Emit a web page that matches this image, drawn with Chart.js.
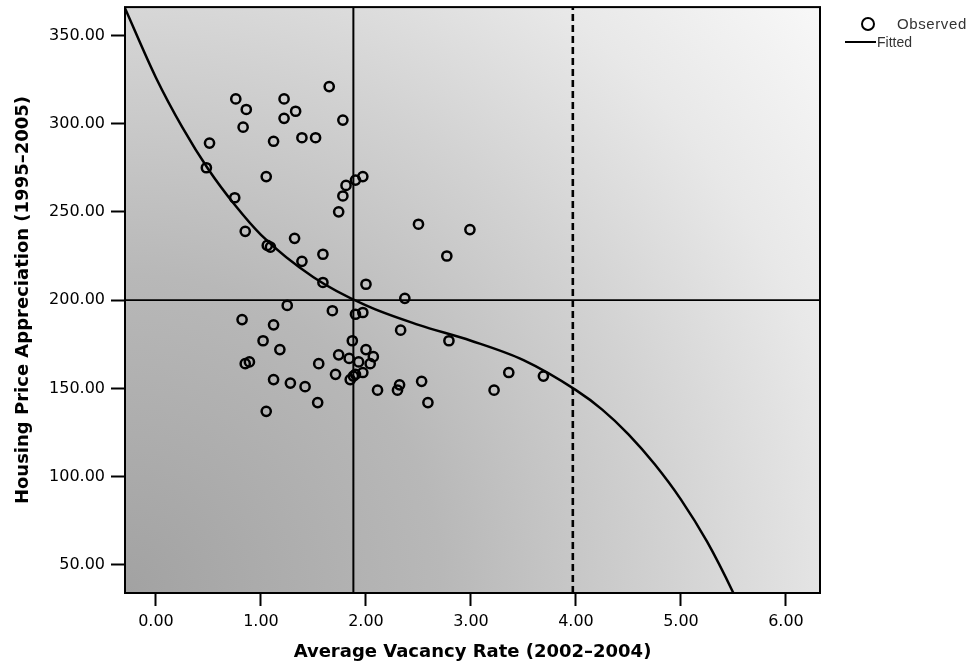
<!DOCTYPE html>
<html>
<head>
<meta charset="utf-8">
<script src="https://cdn.jsdelivr.net/npm/chart.js@4.4.1/dist/chart.umd.min.js"></script>
<style>
    body { margin: 0; background: #fff; }
    .wrap { position: relative; width: 980px; height: 668px; }
    .legend-item { position: absolute; font-family: "Liberation Sans", Arial, sans-serif; font-size: 14px; line-height: 16px; color: #333; white-space: nowrap; }
    .legend-circle { position: absolute; left: 861px; top: 17px; width: 10px; height: 10px; border: 2px solid #000; border-radius: 50%; }
    .legend-line { position: absolute; left: 845px; top: 41px; width: 31px; height: 2px; background: #000; }
</style>
</head>
<body>
<div class="wrap">
    <canvas id="chart" width="980" height="668"></canvas>
    <div class="legend-circle"></div>
    <div class="legend-item" style="left: 897px; top: 16px; font-size: 15px; letter-spacing: 0.6px;">Observed</div>
    <div class="legend-line"></div>
    <div class="legend-item" style="left: 877px; top: 34px;">Fitted</div>
</div>
<script>
// observed cities
const observedVacancy = [
    0.51, 0.48, 0.76, 0.86, 0.83, 0.75, 1.05, 1.12, 1.22, 1.33, 1.22, 1.39, 1.52,
    0.85, 1.06, 1.09, 1.32, 1.39, 1.59, 1.59, 1.25, 1.65, 1.78, 1.97, 1.90, 1.81,
    1.78, 1.74, 2.00, 1.68, 1.90, 1.97, 0.82, 1.12, 1.02, 1.87, 1.18, 2.00, 1.74,
    1.84, 1.93, 2.07, 2.04, 0.85, 0.89, 1.55, 1.71, 1.97, 1.90, 1.88, 1.85, 1.12,
    1.28, 1.42, 1.54, 1.05,
    2.50, 2.99, 2.77, 2.37, 2.33, 2.79, 2.53, 2.32, 2.30, 2.11, 2.59, 3.36, 3.69, 3.22
];
const observedAppreciation = [
    289, 275, 314, 308, 298, 258, 270, 290, 314, 307, 303, 292, 292,
    239, 231, 230, 235, 222, 226, 210, 197, 321, 302, 270, 268, 265,
    259, 250, 209, 194, 192, 193, 189, 186, 177, 177, 172, 172, 169,
    167, 165, 168, 164, 164, 165, 164, 158, 159, 158, 157, 155, 155,
    153, 151, 142, 137,
    243, 240, 225, 201, 183, 177, 154, 152, 149, 149, 142, 159, 157, 149
];

// fitted curve
const fittedVacancy = [-0.3, 0, 0.25, 0.5, 0.75, 1, 1.5, 2, 2.5, 3, 3.5, 4, 4.25, 4.5, 4.75, 5, 5.25, 5.5, 5.6];
const fittedAppreciation = [366, 326, 298, 274, 254, 237, 213, 197, 186, 177, 166, 149, 138, 124, 107, 87, 63, 34, 21];

const xTicks = [0, 1, 2, 3, 4, 5, 6];
const yTicks = [50, 100, 150, 200, 250, 300, 350];

const meanVacancy = 1.88;
const meanAppreciation = 200;
const cutoffVacancy = 3.97;

const xMin = -0.295, xMax = 6.324;
const yMin = 34.1, yMax = 366;

const observed = observedVacancy.map((x, i) => ({ x: x, y: observedAppreciation[i] }));
const fitted = fittedVacancy.map((x, i) => ({ x: x, y: fittedAppreciation[i] }));

const plotBackground = {
    id: "plotBackground",
    beforeDraw: (chart) => {
        const { ctx, chartArea: a } = chart;
        const r = Math.hypot(a.right - a.left, a.bottom - a.top);
        const g = ctx.createRadialGradient(a.left, a.bottom, 0, a.left, a.bottom, r);
        g.addColorStop(0, "#a2a2a2");
        g.addColorStop(0.35, "#b8b8b8");
        g.addColorStop(0.6, "#d2d2d2");
        g.addColorStop(0.8, "#e8e8e8");
        g.addColorStop(1, "#f8f8f8");
        ctx.save();
        ctx.fillStyle = g;
        ctx.fillRect(a.left, a.top, a.right - a.left, a.bottom - a.top);
        ctx.restore();
    },
    afterDraw: (chart) => {
        const { ctx, chartArea: a } = chart;
        ctx.save();
        ctx.strokeStyle = "#000";
        ctx.lineWidth = 2;
        ctx.strokeRect(a.left, a.top, a.right - a.left, a.bottom - a.top);
        ctx.restore();
    }
};

const tickFont = { family: "DejaVu Sans", size: 16 };
const titleFont = { family: "DejaVu Sans", size: 18, weight: "bold" };

new Chart(document.getElementById("chart"), {
    type: "scatter",
    data: {
        datasets: [{
            label: "Observed",
            data: observed,
            showLine: false,
            pointStyle: "circle",
            pointRadius: 4.6,
            pointBorderWidth: 2.5,
            pointBorderColor: "#000",
            pointBackgroundColor: "rgba(0,0,0,0)"
        }, {
            label: "Fitted",
            data: fitted,
            showLine: true,
            cubicInterpolationMode: "monotone",
            pointRadius: 0,
            borderColor: "#000",
            borderWidth: 2.5
        }, {
            data: [{ x: meanVacancy, y: yMin }, { x: meanVacancy, y: yMax }],
            showLine: true,
            pointRadius: 0,
            borderColor: "#000",
            borderWidth: 2
        }, {
            data: [{ x: xMin, y: meanAppreciation }, { x: xMax, y: meanAppreciation }],
            showLine: true,
            pointRadius: 0,
            borderColor: "#000",
            borderWidth: 1.6
        }, {
            data: [{ x: cutoffVacancy, y: yMin }, { x: cutoffVacancy, y: yMax }],
            showLine: true,
            pointRadius: 0,
            borderColor: "#000",
            borderWidth: 2.6,
            borderDash: [7, 4]
        }]
    },
    options: {
        responsive: false,
        animation: false,
        events: [],
        layout: { padding: { left: 0, right: 160, top: 7, bottom: 0 } },
        scales: {
            x: {
                type: "linear",
                min: xMin,
                max: xMax,
                afterBuildTicks: (scale) => { scale.ticks = xTicks.map(v => ({ value: v })); },
                afterFit: (scale) => {
                    scale.height = 75;
                    scale.paddingLeft = 0;
                    scale.paddingRight = 0;
                },
                border: { display: false },
                grid: { drawOnChartArea: false, drawTicks: true, tickLength: 13, tickWidth: 2, tickColor: "#000" },
                ticks: { color: "#000", font: tickFont, padding: 6, callback: v => v.toFixed(2) },
                title: { display: true, text: "Average Vacancy Rate (2002–2004)", color: "#000", font: titleFont, padding: { top: 0, bottom: 5 } }
            },
            y: {
                type: "linear",
                min: yMin,
                max: yMax,
                afterBuildTicks: (scale) => { scale.ticks = yTicks.map(v => ({ value: v })); },
                afterFit: (scale) => {
                    scale.width = 125;
                    scale.paddingTop = 0;
                    scale.paddingBottom = 0;
                },
                border: { display: false },
                grid: { drawOnChartArea: false, drawTicks: true, tickLength: 14, tickWidth: 2, tickColor: "#000" },
                ticks: { color: "#000", font: tickFont, padding: 6, callback: v => v.toFixed(2) },
                title: { display: true, text: "Housing Price Appreciation (1995–2005)", color: "#000", font: titleFont, padding: { top: 13, bottom: 0 } }
            }
        },
        plugins: {
            legend: { display: false },
            tooltip: { enabled: false }
        }
    },
    plugins: [plotBackground]
});
</script>
</body>
</html>
